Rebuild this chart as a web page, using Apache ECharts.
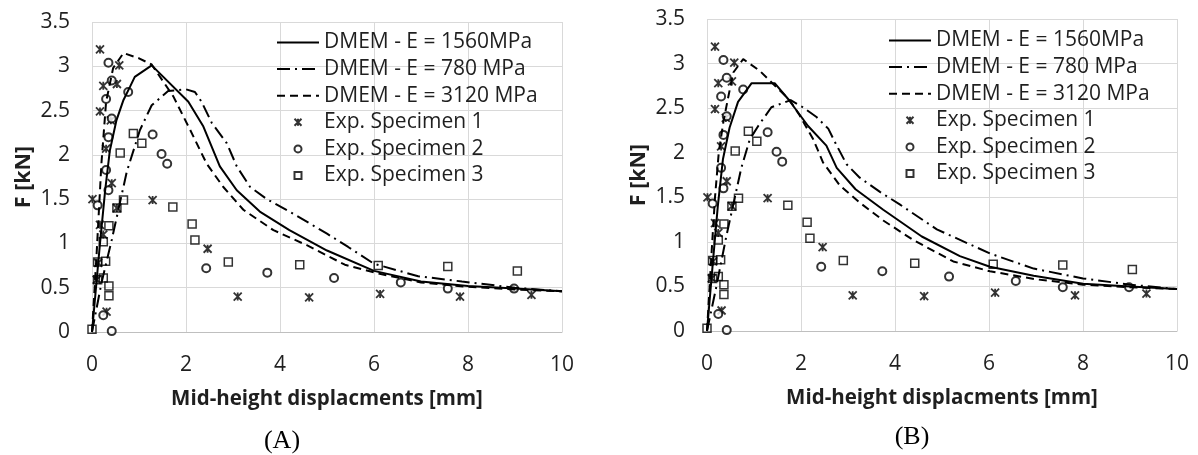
<!DOCTYPE html>
<html><head><meta charset="utf-8">
<script src="https://cdn.jsdelivr.net/npm/echarts@6/dist/echarts.min.js"></script>
<style>html,body{margin:0;padding:0;background:#fff}#c{width:1198px;height:455px}</style>
</head><body><div id="c"></div>
<script>
// ---- names / ticks ----
const seriesNames = ['DMEM - E = 1560MPa', 'DMEM - E = 780 MPa', 'DMEM - E = 3120 MPa',
  'Exp. Specimen 1', 'Exp. Specimen 2', 'Exp. Specimen 3'];
const xAxisTitle = 'Mid-height displacments [mm]';
const yAxisTitle = 'F [kN]';
const panelLabels = ['(A)', '(B)'];

// ---- Panel A model curves ----
const xSolidA = [0, 0.17, 0.28, 0.38, 0.52, 0.67, 0.81, 0.91, 1.27, 2.05, 2.37, 2.72, 3.08, 3.57, 4.2, 5.0, 6.0, 7.0, 8.0, 9.0, 10];
const ySolidA = [0, 1.0, 1.6, 2.05, 2.39, 2.62, 2.77, 2.88, 3.01, 2.60, 2.32, 1.87, 1.60, 1.36, 1.15, 0.92, 0.69, 0.57, 0.52, 0.49, 0.46];
const xDashDotA = [0, 0.2, 0.42, 0.74, 1.02, 1.27, 1.62, 2.0, 2.19, 2.33, 2.55, 2.87, 3.08, 3.36, 3.72, 4.3, 5.0, 5.45, 6.0, 6.94, 7.87, 9.0, 10];
const yDashDotA = [0, 0.55, 1.04, 1.81, 2.28, 2.56, 2.72, 2.74, 2.71, 2.60, 2.36, 2.13, 1.87, 1.64, 1.50, 1.33, 1.11, 0.96, 0.77, 0.63, 0.57, 0.50, 0.46];
const xDashedA = [0, 0.1, 0.2, 0.3, 0.45, 0.67, 1.0, 1.27, 1.73, 2.09, 2.44, 2.79, 3.22, 3.86, 4.57, 5.38, 6.09, 7.0, 8.0, 9.0, 10];
const yDashedA = [0, 0.9, 1.9, 2.6, 2.98, 3.15, 3.09, 3.02, 2.66, 2.28, 1.90, 1.64, 1.38, 1.15, 0.98, 0.76, 0.66, 0.56, 0.51, 0.48, 0.46];

// ---- Panel B model curves ----
const xSolidB = [0, 0.13, 0.23, 0.34, 0.48, 0.66, 0.95, 1.44, 1.73, 2.15, 2.54, 2.76, 3.16, 3.75, 4.57, 5.38, 6.02, 6.95, 8.0, 9.0, 10];
const ySolidB = [0, 0.80, 1.40, 1.93, 2.28, 2.57, 2.78, 2.78, 2.60, 2.30, 2.08, 1.83, 1.59, 1.36, 1.06, 0.84, 0.72, 0.62, 0.53, 0.50, 0.47];
const xDashDotB = [0, 0.2, 0.41, 0.73, 0.91, 1.09, 1.37, 1.78, 2.04, 2.33, 2.58, 2.76, 2.97, 3.25, 3.68, 4.1, 4.89, 6.02, 6.95, 8.0, 9.0, 10];
const yDashDotB = [0, 0.5, 1.06, 1.83, 2.15, 2.30, 2.51, 2.59, 2.51, 2.40, 2.27, 2.08, 1.87, 1.72, 1.56, 1.42, 1.14, 0.87, 0.70, 0.59, 0.52, 0.47];
const xDashedB = [0, 0.1, 0.17, 0.25, 0.35, 0.45, 0.56, 0.77, 1.12, 1.76, 1.97, 2.26, 2.47, 2.83, 3.25, 3.75, 4.39, 5.24, 6.02, 7.0, 8.0, 9.0, 10];
const yDashedB = [0, 0.9, 1.5, 2.0, 2.35, 2.62, 2.9, 3.05, 2.92, 2.59, 2.42, 2.15, 1.89, 1.63, 1.44, 1.24, 1.02, 0.78, 0.67, 0.58, 0.52, 0.49, 0.47];

// ---- Experimental points (same in both panels) ----
const xSpec1 = [0.17, 0.58, 0.24, 0.53, 0.17, 0.40, 0.30, 0.42, 0.01, 0.17, 0.24, 0.53, 0.13, 0.10, 0.31, 1.29, 2.46, 3.10, 4.62, 6.13, 7.83, 9.35];
const ySpec1 = [3.19, 3.01, 2.78, 2.80, 2.49, 2.39, 2.07, 1.68, 1.50, 1.21, 1.10, 1.40, 0.78, 0.59, 0.23, 1.49, 0.94, 0.40, 0.39, 0.43, 0.40, 0.42];
const xSpec2 = [0.35, 0.42, 0.30, 0.77, 0.42, 0.35, 0.30, 0.35, 0.12, 0.24, 0.42, 1.29, 1.48, 1.60, 2.43, 3.73, 5.15, 6.57, 7.57, 8.98];
const ySpec2 = [3.04, 2.84, 2.63, 2.71, 2.41, 2.20, 1.83, 1.60, 1.43, 0.19, 0.01, 2.23, 2.01, 1.90, 0.72, 0.67, 0.61, 0.56, 0.49, 0.49];
const xSpec3 = [0.00, 0.12, 0.24, 0.36, 0.36, 0.12, 0.29, 0.24, 0.36, 0.53, 0.67, 0.60, 0.88, 1.06, 1.72, 2.13, 2.19, 2.90, 4.42, 6.09, 7.57, 9.05];
const ySpec3 = [0.03, 0.59, 0.61, 0.52, 0.41, 0.79, 0.80, 1.02, 1.20, 1.40, 1.49, 2.02, 2.24, 2.13, 1.41, 1.22, 1.04, 0.79, 0.76, 0.75, 0.74, 0.69];

const pairs = (xs, ys) => xs.map((x, i) => [x, ys[i]]);

const FONT = 'Open Sans';
const TXT = '#1f1f1f';
const FS = 21;
const starSymbol = 'path://M0,0L10,10M10,0L0,10M5,0L5,10';
const squareSymbol = 'path://M0,0L10,0L10,10L0,10Z';

const grids = [
  { left: 92, top: 22, width: 470, height: 310 },
  { left: 707, top: 19, width: 470, height: 312 }
];

function xAxisFor(i) {
  return {
    type: 'value', gridIndex: i, min: 0, max: 10, interval: 2,
    name: xAxisTitle, nameLocation: 'middle', nameGap: 57,
    nameTextStyle: { fontFamily: FONT, fontWeight: 'bold', fontSize: 20.5, color: TXT },
    axisLine: { show: true, lineStyle: { color: '#bfbfbf', width: 1 } },
    axisTick: { show: false },
    axisLabel: { fontFamily: FONT, fontSize: FS, color: TXT, margin: 23 },
    splitLine: { show: true, lineStyle: { color: '#d9d9d9', width: 1 } }
  };
}
function yAxisFor(i) {
  return {
    type: 'value', gridIndex: i, min: 0, max: 3.5, interval: 0.5,
    name: yAxisTitle, nameLocation: 'middle', nameGap: 57,
    nameTextStyle: { fontFamily: FONT, fontWeight: 'bold', fontSize: 21.5, color: TXT },
    axisLine: { show: false }, axisTick: { show: false },
    axisLabel: { fontFamily: FONT, fontSize: FS, color: TXT, margin: 22 },
    splitLine: { show: true, lineStyle: { color: '#d9d9d9', width: 1 } }
  };
}

function lineSeries(name, data, gi, type) {
  return {
    name, type: 'line', xAxisIndex: gi, yAxisIndex: gi, data,
    symbol: 'none', smooth: false, z: 3,
    lineStyle: { color: '#000', width: 2, type, cap: 'butt' },
    itemStyle: { color: '#000', opacity: 0 }
  };
}
function scatterSeries(name, data, gi, symbol) {
  return {
    name, type: 'scatter', xAxisIndex: gi, yAxisIndex: gi, data,
    symbol, symbolSize: 8, symbolKeepAspect: true, z: 2,
    itemStyle: symbol === 'emptyCircle'
      ? { color: '#000', borderColor: '#000', borderWidth: 1.4 }
      : { color: 'rgba(0,0,0,0)', borderColor: '#000', borderWidth: symbol === starSymbol ? 1.8 : 1.5 }
  };
}

const series = [];
const curves = [
  [pairs(xSolidA, ySolidA), pairs(xDashDotA, yDashDotA), pairs(xDashedA, yDashedA)],
  [pairs(xSolidB, ySolidB), pairs(xDashDotB, yDashDotB), pairs(xDashedB, yDashedB)]
];
const dashDot = [13, 5, 2, 5];
const dashed = [8, 5];
for (let g = 0; g < 2; g++) {
  series.push(lineSeries(seriesNames[0], curves[g][0], g, 'solid'));
  series.push(lineSeries(seriesNames[1], curves[g][1], g, dashDot));
  series.push(lineSeries(seriesNames[2], curves[g][2], g, dashed));
  series.push(scatterSeries(seriesNames[3], pairs(xSpec1, ySpec1), g, starSymbol));
  series.push(scatterSeries(seriesNames[4], pairs(xSpec2, ySpec2), g, 'emptyCircle'));
  series.push(scatterSeries(seriesNames[5], pairs(xSpec3, ySpec3), g, squareSymbol));
}

function legendAt(left, top) {
  return {
    data: seriesNames, orient: 'vertical', left, top,
    itemWidth: 42, itemHeight: 7, itemGap: 5.6, selectedMode: false,
    symbolKeepAspect: true,
    textStyle: { fontFamily: FONT, fontSize: FS, color: TXT, lineHeight: 21, padding: [0, 0, 0, 0] },
    padding: 0
  };
}

const chart = echarts.init(document.getElementById('c'), null, { renderer: 'canvas' });
chart.setOption({
  backgroundColor: '#fff',
  animation: false,
  grid: grids,
  xAxis: [xAxisFor(0), xAxisFor(1)],
  yAxis: [yAxisFor(0), yAxisFor(1)],
  legend: [legendAt(276, 32), legendAt(888, 30)],
  series,
  graphic: [
    { type: 'text', x: 282, y: 441, style: { text: panelLabels[0], font: '26px "Liberation Serif"', fill: '#000', align: 'center', verticalAlign: 'middle' } },
    { type: 'text', x: 912, y: 437, style: { text: panelLabels[1], font: '26px "Liberation Serif"', fill: '#000', align: 'center', verticalAlign: 'middle' } }
  ]
});
</script>
</body></html>
